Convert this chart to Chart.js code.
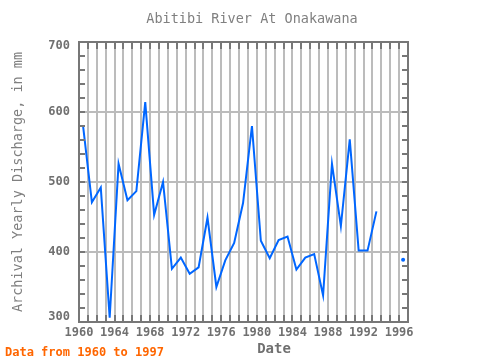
<!DOCTYPE html>
<html>
<head>
<meta charset="utf-8">
<script src="https://cdn.jsdelivr.net/npm/chart.js@4/dist/chart.umd.min.js"></script>
<style>
html,body{margin:0;padding:0;background:#ffffff;}
#wrap{width:480px;height:360px;}
</style>
</head>
<body>
<div id="wrap"><canvas id="c" width="480" height="360"></canvas></div>
<script>
// ---- text ----
const titleText = 'Abitibi River At Onakawana';
const xTitleText = 'Date';
const yTitleText = 'Archival Yearly Discharge, in mm';
const footText = 'Data from 1960 to 1997';

// ---- data ----
const years = [1960,1961,1962,1963,1964,1965,1966,1967,1968,1969,
               1970,1971,1972,1973,1974,1975,1976,1977,1978,1979,
               1980,1981,1982,1983,1984,1985,1986,1987,1988,1989,
               1990,1991,1992,1993,1994,1995,1996];
const discharge = [581,471,492,306,526,474,487,614,453,500,
                   376,392,369,378,449,350,388,413,470,580,
                   416,391,417,422,375,392,397,338,526,437,
                   561,402,402,458,null,null,389];
const xLabelYears = [1960,1964,1968,1972,1976,1980,1984,1988,1992,1996];
const yTickValues = [300,400,500,600,700];

const FONT = '"DejaVu Sans Mono", "Liberation Mono", monospace';
const MID_YEAR = 0.45;

const points = years.map((yr, i) => ({x: yr + MID_YEAR, y: discharge[i]}));

function isolated(i){
  const d = discharge;
  if (d[i] === null) return false;
  const prev = i > 0 ? d[i-1] : null;
  const next = i < d.length-1 ? d[i+1] : null;
  return prev === null && next === null;
}

const framePlugin = {
  id: 'frameAndText',
  afterDraw(chart){
    const {ctx, chartArea: a, scales: {x, y}} = chart;
    ctx.save();
    ctx.strokeStyle = '#777777';
    ctx.lineWidth = 2;
    ctx.beginPath();
    for (let yr = 1961; yr <= 1996; yr++){
      const px = Math.round(x.getPixelForValue(yr));
      ctx.moveTo(px, a.bottom); ctx.lineTo(px, a.bottom - 7);
      ctx.moveTo(px, a.top); ctx.lineTo(px, a.top + 7);
    }
    for (let v = 320; v < 700; v += 20){
      const py = Math.round(y.getPixelForValue(v));
      ctx.moveTo(a.left, py); ctx.lineTo(a.left + 6, py);
      ctx.moveTo(a.right, py); ctx.lineTo(a.right - 6, py);
    }
    ctx.stroke();
    ctx.strokeRect(a.left, a.top, a.right - a.left, a.bottom - a.top);

    // y tick labels, kept inside the axis span
    ctx.fillStyle = '#707070';
    ctx.font = 'bold 12px ' + FONT;
    ctx.textAlign = 'right';
    ctx.textBaseline = 'middle';
    yTickValues.forEach(v => {
      let py = y.getPixelForValue(v);
      py = Math.min(Math.max(py, a.top + 4), a.bottom - 5);
      ctx.fillText(String(v), a.left - 9, py);
    });

    ctx.textBaseline = 'alphabetic';
    ctx.fillStyle = '#808080';
    ctx.font = '13.5px ' + FONT;
    ctx.textAlign = 'center';
    ctx.fillText(titleText, 252, 23);

    ctx.fillStyle = '#707070';
    ctx.font = 'bold 14px ' + FONT;
    ctx.fillText(xTitleText, 274, 353);

    ctx.save();
    ctx.translate(22, 182);
    ctx.rotate(-Math.PI/2);
    ctx.fillStyle = '#808080';
    ctx.font = '13.5px ' + FONT;
    ctx.textAlign = 'center';
    ctx.fillText(yTitleText, 0, 0);
    ctx.restore();

    ctx.fillStyle = '#ff6600';
    ctx.font = 'bold 12px ' + FONT;
    ctx.textAlign = 'left';
    ctx.fillText(footText, 5, 356);
    ctx.restore();
  }
};

new Chart(document.getElementById('c'), {
  type: 'line',
  data: {
    datasets: [{
      data: points,
      borderColor: 'rgb(0,102,255)',
      backgroundColor: 'rgb(0,102,255)',
      borderWidth: 2,
      tension: 0,
      spanGaps: false,
      pointRadius: (c) => isolated(c.dataIndex) ? 2 : 0,
      pointBorderWidth: 0,
      fill: false
    }]
  },
  options: {
    responsive: false,
    animation: false,
    devicePixelRatio: 1,
    layout: {padding: {top: 42, right: 72, left: 0, bottom: 0}},
    plugins: {legend: {display: false}, tooltip: {enabled: false}, title: {display: false}},
    scales: {
      x: {
        type: 'linear',
        min: 1960, max: 1997,
        afterFit(s){ s.height = 38; },
        afterBuildTicks(s){
          const t = [];
          for (let yr = 1960; yr <= 1997; yr++) t.push({value: yr});
          s.ticks = t;
        },
        ticks: {
          autoSkip: false, maxRotation: 0, minRotation: 0, padding: 4,
          color: '#707070',
          font: {family: FONT, size: 12, weight: 'bold'},
          callback: (v) => xLabelYears.includes(v) ? String(v) : ''
        },
        grid: {color: '#bcbcbc', lineWidth: 2, drawTicks: false},
        border: {display: false}
      },
      y: {
        min: 300, max: 700,
        afterFit(s){ s.width = 79; },
        afterBuildTicks(s){ s.ticks = yTickValues.map(v => ({value: v})); },
        ticks: {display: false},
        grid: {color: '#bcbcbc', lineWidth: 2, drawTicks: false},
        border: {display: false}
      }
    }
  },
  plugins: [framePlugin]
});
</script>
</body>
</html>
